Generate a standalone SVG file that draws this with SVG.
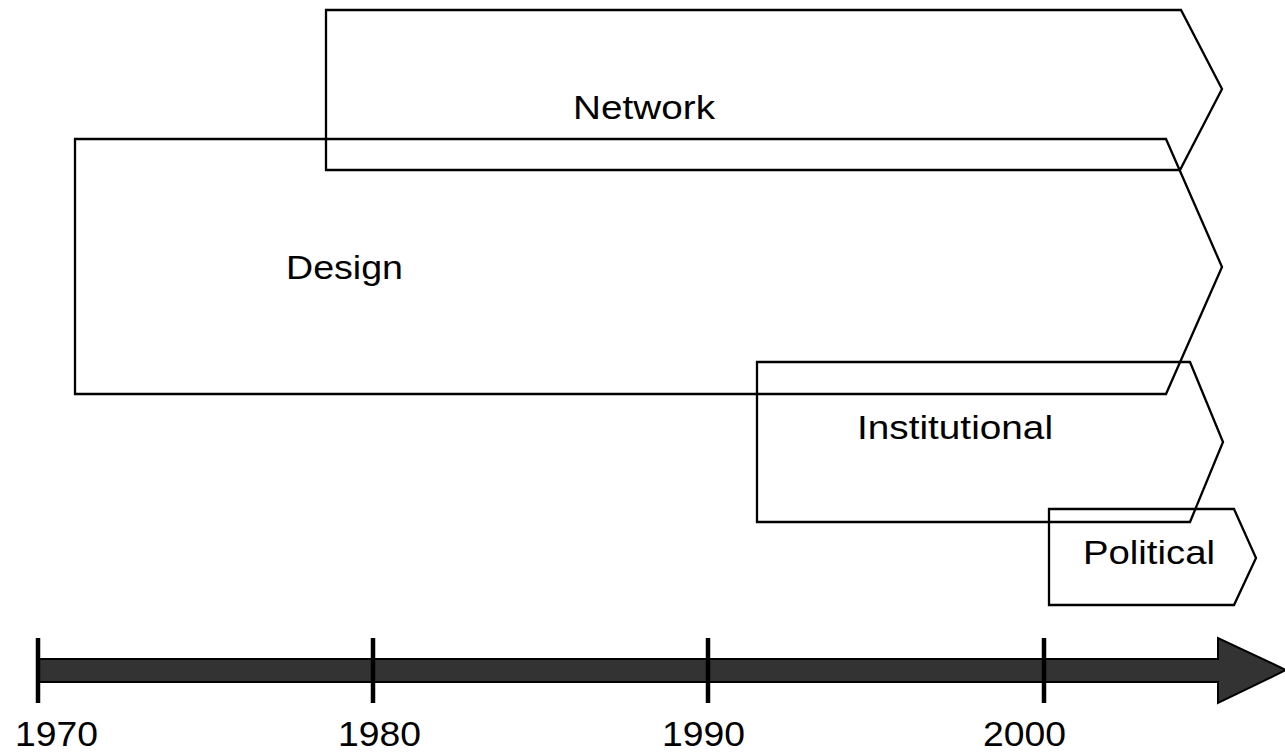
<svg xmlns="http://www.w3.org/2000/svg" width="1285" height="754" viewBox="0 0 1285 754">
<style>
.box{fill:none;stroke:#000;stroke-width:2.3;stroke-linejoin:miter}
.lbl{font-family:"Liberation Sans",Arial,sans-serif;font-size:33px;fill:#000}
.yr{font-family:"Liberation Sans",Arial,sans-serif;font-size:35px;fill:#000}
.tick{stroke:#000;stroke-width:4.5}
</style>
<rect width="1285" height="754" fill="#fff"/>
<g id="network">
<polygon class="box" points="326,10 1181,10 1222,89 1180,170 326,170"/>
<text class="lbl" x="573" y="119" textLength="142" lengthAdjust="spacingAndGlyphs">Network</text>
</g>
<g id="design">
<polygon class="box" points="75,139 1166,139 1222,267 1166,394 75,394"/>
<text class="lbl" x="286" y="279" textLength="117" lengthAdjust="spacingAndGlyphs">Design</text>
</g>
<g id="institutional">
<polygon class="box" points="757,362 1190,362 1223,442 1190,522 757,522"/>
<text class="lbl" x="857" y="439" textLength="196" lengthAdjust="spacingAndGlyphs">Institutional</text>
</g>
<g id="political">
<polygon class="box" points="1049,509 1234,509 1256,558 1234,605 1049,605"/>
<text class="lbl" x="1083" y="564" textLength="132" lengthAdjust="spacingAndGlyphs">Political</text>
</g>
<g id="timeline">
<polygon points="38,659 1218,659 1218,638 1286,670 1218,703 1218,682 38,682" fill="#333" stroke="#000" stroke-width="2"/>
<line class="tick" x1="38" y1="638" x2="38" y2="703"/>
<line class="tick" x1="373" y1="638" x2="373" y2="703"/>
<line class="tick" x1="708" y1="638" x2="708" y2="703"/>
<line class="tick" x1="1044" y1="638" x2="1044" y2="703"/>
<text class="yr" x="15" y="746" textLength="83" lengthAdjust="spacingAndGlyphs">1970</text>
<text class="yr" x="338" y="746" textLength="83" lengthAdjust="spacingAndGlyphs">1980</text>
<text class="yr" x="662" y="746" textLength="83" lengthAdjust="spacingAndGlyphs">1990</text>
<text class="yr" x="983" y="746" textLength="83" lengthAdjust="spacingAndGlyphs">2000</text>
</g>
</svg>
